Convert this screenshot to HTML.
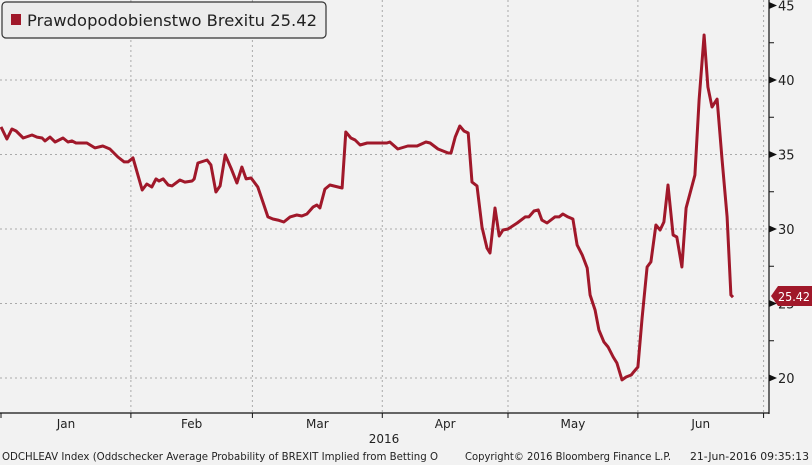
<!DOCTYPE html>
<html><head><meta charset="utf-8"><style>
body{margin:0;background:#f2f2f2;font-family:"DejaVu Sans","Liberation Sans",sans-serif;}
svg{display:block}
</style></head><body>
<svg width="812" height="465" viewBox="0 0 812 465">
<rect x="0" y="0" width="812" height="465" fill="#f2f2f2"/>
<g id="grid"></g>
<g id="axes"></g>
<path id="line" fill="none" stroke="#a0182a" stroke-width="3" stroke-linejoin="round"/>
<g>
<rect x="2" y="2" width="324" height="36" rx="4" fill="#ececec" stroke="#333" stroke-width="1.2"/>
<rect x="11" y="14" width="10" height="11" fill="#a0182a"/>
<text x="27" y="26" font-size="16" fill="#222" textLength="290" lengthAdjust="spacingAndGlyphs">Prawdopodobienstwo Brexitu 25.42</text>
</g>
<g>
<path d="M771 296 L778 286 L812 286 L812 306 L778 306 Z" fill="#a0182a"/>
<text x="778" y="301" font-size="12" fill="#fff" textLength="32" lengthAdjust="spacingAndGlyphs">25.42</text>
</g>
<text x="384" y="443" font-size="12" text-anchor="middle" fill="#222">2016</text>
<text x="2" y="460" font-size="10.5" fill="#222" textLength="436" lengthAdjust="spacingAndGlyphs">ODCHLEAV Index (Oddschecker Average Probability of BREXIT Implied from Betting O</text>
<text x="465" y="460" font-size="10.5" fill="#222" textLength="206" lengthAdjust="spacingAndGlyphs">Copyright© 2016 Bloomberg Finance L.P.</text>
<text x="690" y="460" font-size="10.5" fill="#222" textLength="119" lengthAdjust="spacingAndGlyphs">21-Jun-2016 09:35:13</text>
</svg>
<script>
const days=[0,1.4,2.6,3.6,5.3,7.4,8.6,9.8,10.5,11.7,12.9,14.8,16,16.9,17.9,20.5,22.4,24.3,26,27.9,29.4,30.3,31.5,33.7,34.8,36,37,37.7,38.7,39.9,40.8,42.7,43.9,45.6,46.1,47,49.2,50.1,51.3,52.3,53.5,54.9,56.3,57.5,58.5,59.7,61.3,62.5,63.7,64.9,66.1,67.5,69,70.6,71.8,73,74.5,75.4,76.1,77.3,78.5,81.4,82.3,83.5,84.5,85.7,87.4,88.8,92.1,92.8,94.7,97.1,99.3,101.4,102.4,104.3,106.7,107.4,108.4,109.5,110.5,111.5,112.4,113.6,114.8,116,116.7,117.9,118.9,119.8,121,123.2,125.1,126,127.2,128.2,129.1,130.3,132.2,133.2,134.1,135.3,136.5,137.5,138.7,139.9,140.6,141.8,142.7,143.9,144.9,146.1,147,148.2,149.2,150.4,150.8,152,153,154.2,155.1,156.3,157.3,158.2,159.2,160.4,161.3,162.5,163.5,165.6,166.6,167.8,168.7,169.7,170.9,172.1,173.3,174.2,174.7];
const values=[36.85,36.04,36.71,36.58,36.11,36.31,36.17,36.11,35.91,36.17,35.84,36.11,35.84,35.91,35.77,35.77,35.44,35.57,35.37,34.83,34.5,34.5,34.77,32.62,33.02,32.82,33.36,33.22,33.36,32.95,32.89,33.29,33.15,33.22,33.36,34.43,34.63,34.3,32.48,32.89,34.97,34.09,33.09,34.16,33.36,33.42,32.82,31.81,30.81,30.67,30.6,30.47,30.81,30.94,30.87,31.01,31.48,31.61,31.41,32.68,32.95,32.75,36.51,36.11,35.97,35.64,35.77,35.77,35.77,35.84,35.37,35.57,35.57,35.84,35.77,35.37,35.1,35.1,36.17,36.91,36.58,36.44,33.15,32.89,30.13,28.72,28.39,31.41,29.53,29.93,30,30.4,30.81,30.81,31.21,31.28,30.6,30.4,30.81,30.81,31.01,30.81,30.67,28.93,28.26,27.38,25.57,24.56,23.22,22.42,22.08,21.41,21.01,19.87,20.07,20.2,20.34,20.74,24.03,27.45,27.79,30.27,29.93,30.47,32.95,29.6,29.46,27.45,31.41,33.62,38.66,43.02,39.53,38.19,38.72,34.63,30.81,25.57,25.42];
const monthLabels=["Jan","Feb","Mar","Apr","May","Jun"];
const monthStarts=[0,31,60,91,121,152,182];
const yTicks=[20,25,30,35,40,45];
const yMinor=[22.5,27.5,32.5,37.5,42.5];
const NS="http://www.w3.org/2000/svg";
function xS(d){return 1+d*4.19;}
function yS(v){return 378-(v-20)*14.9;}
function mk(tag,attrs,parent){const e=document.createElementNS(NS,tag);for(const k in attrs)e.setAttribute(k,attrs[k]);parent.appendChild(e);return e;}
const grid=document.getElementById('grid'),axes=document.getElementById('axes');
yTicks.forEach(v=>{
  if(v<45){const l=mk('line',{x1:0,x2:768,y1:yS(v),y2:yS(v),stroke:'#aaa','stroke-dasharray':'2,3'},grid);
  
  }
  const t=mk('path',{d:`M769 ${yS(v)-3.5} L777 ${yS(v)} L769 ${yS(v)+3.5} Z`,fill:'#111'},axes);
  
  
  const tx=mk('text',{x:778,y:yS(v)+5,'font-size':13,fill:'#222'},axes);
  tx.textContent=v;
  
  
});
yMinor.forEach(v=>{
  const t=mk('line',{x1:769,x2:774,y1:yS(v),y2:yS(v),stroke:'#111'},axes);
  
  
});
monthStarts.forEach((d,i)=>{
  if(i>0){const l=mk('line',{x1:xS(d),x2:xS(d),y1:0,y2:413,stroke:'#aaa','stroke-dasharray':'2,3'},grid);
  
  }
  const t=mk('line',{x1:xS(d),x2:xS(d),y1:413,y2:418,stroke:'#111'},axes);
  
  
  if(i<monthLabels.length){
    const tx=mk('text',{x:(xS(d)+xS(monthStarts[i+1]))/2,y:428,'font-size':12,'text-anchor':'middle',fill:'#222'},axes);
    tx.textContent=monthLabels[i];
    
    
  }
});
const ax=mk('line',{x1:769,x2:769,y1:0,y2:414,stroke:'#111','stroke-width':1.2},axes);


const bx=mk('line',{x1:0,x2:769,y1:413,y2:413,stroke:'#111','stroke-width':1.2},axes);


document.getElementById('line').setAttribute('d',days.map((d,i)=>(i?'L':'M')+xS(d).toFixed(1)+' '+yS(values[i]).toFixed(1)).join(' '));
</script>
</body></html>
